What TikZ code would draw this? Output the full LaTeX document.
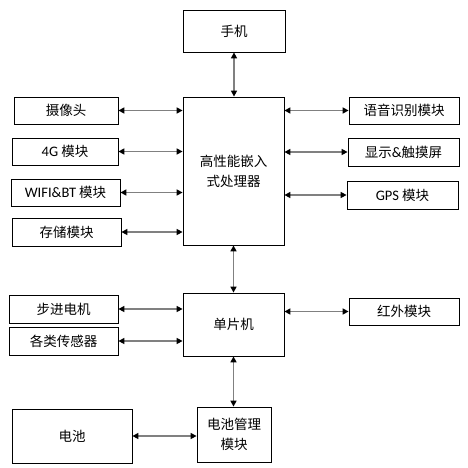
\documentclass[tikz,border=0pt]{standalone}
\usepackage{fontspec}
\setmainfont{Noto Sans CJK SC}
\newfontfamily\latinfont{Carlito}
\usetikzlibrary{arrows.meta}

\begin{document}
\begin{tikzpicture}[x=1pt,y=-1pt,
  blk/.style={draw,line width=0.8pt,rectangle,inner sep=0pt,align=center,
    font=\fontsize{13.5}{20}\selectfont},
  link/.style={draw={rgb,255:red,128;green,128;blue,128},line width=1.5pt,
    {Triangle[length=6pt,width=6pt,color=black]}-{Triangle[length=6pt,width=6pt,color=black]}}]
\useasboundingbox (0,0) rectangle (467,468);
% Centre blocks
\node[blk,minimum width=102pt,minimum height=42pt] (phone) at (234,31) {手机};
\node[blk,minimum width=101pt,minimum height=148pt] (cpu) at (233.5,171)
  {高性能嵌入\\式处理器};
\node[blk,minimum width=101pt,minimum height=63pt] (mcu) at (233.5,324.5) {单片机};
\node[blk,minimum width=74pt,minimum height=55pt] (bms) at (234,434.5)
  {电池管理\\模块};
% Left modules
\node[blk,minimum width=104pt,minimum height=27pt] (cam) at (66,110.5) {摄像头};
\node[blk,minimum width=106pt,minimum height=27pt] (lte) at (65,151.5)
  {{\latinfont\fontsize{14.5}{20}\selectfont 4G} 模块};
\node[blk,minimum width=109pt,minimum height=27pt] (wifi) at (65.5,192.5)
  {{\latinfont\fontsize{14.5}{20}\selectfont WIFI\&BT} 模块};
\node[blk,minimum width=109pt,minimum height=28pt] (mem) at (66.5,232) {存储模块};
\node[blk,minimum width=109pt,minimum height=28pt] (motor) at (63.5,309) {步进电机};
\node[blk,minimum width=109pt,minimum height=28pt] (sens) at (63.5,341) {各类传感器};
\node[blk,minimum width=120pt,minimum height=54pt] (batt) at (72,436) {电池};
% Right modules
\node[blk,minimum width=110pt,minimum height=27pt] (voice) at (404,110.5) {语音识别模块};
\node[blk,minimum width=111pt,minimum height=28pt] (disp) at (403.5,152)
  {显示{\latinfont\fontsize{14.5}{20}\selectfont \&}触摸屏};
\node[blk,minimum width=111pt,minimum height=28pt] (gps) at (402.5,195)
  {{\latinfont\fontsize{14.5}{20}\selectfont GPS} 模块};
\node[blk,minimum width=110pt,minimum height=27pt] (ir) at (404,311.5) {红外模块};
%
% Vertical links
\draw[link] (phone.south) -- (phone.south |- cpu.north);
\draw[link] (cpu.south) -- (cpu.south |- mcu.north);
\draw[link] (mcu.south) -- (mcu.south |- bms.north);
% Links to the processor
\draw[link] (cam.east) -- (cam.east -| cpu.west);
\draw[link] (lte.east) -- (lte.east -| cpu.west);
\draw[link] (wifi.east) -- (wifi.east -| cpu.west);
\draw[link] (mem.east) -- (mem.east -| cpu.west);
\draw[link] (voice.west -| cpu.east) -- (voice.west);
\draw[link] (disp.west -| cpu.east) -- (disp.west);
\draw[link] (gps.west -| cpu.east) -- (gps.west);
% Links to the MCU
\draw[link] (motor.east) -- (motor.east -| mcu.west);
\draw[link] (sens.east) -- (sens.east -| mcu.west);
\draw[link] (ir.west -| mcu.east) -- (ir.west);
\draw[link] (batt.east) -- (batt.east -| bms.west);
\end{tikzpicture}
\end{document}
